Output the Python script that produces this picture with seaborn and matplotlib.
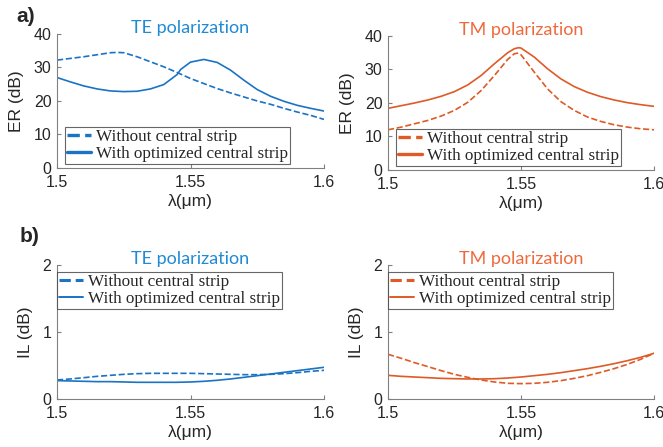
import matplotlib
matplotlib.use("Agg")
import matplotlib.pyplot as plt
import seaborn as sns

# wavelengths (um)
wl = [1.5, 1.505, 1.51, 1.515, 1.52, 1.525, 1.53, 1.535, 1.54, 1.545,
      1.55, 1.555, 1.56, 1.565, 1.57, 1.575, 1.58, 1.585, 1.59, 1.595, 1.6]
wl_te_er = [1.5, 1.505, 1.51, 1.515, 1.52, 1.5225, 1.525, 1.53, 1.535, 1.54,
            1.545, 1.55, 1.555, 1.56, 1.565, 1.57, 1.575, 1.58, 1.585, 1.59,
            1.595, 1.6]
wl_te_er_opt = [1.5, 1.505, 1.51, 1.515, 1.52, 1.525, 1.53, 1.535, 1.54,
                1.545, 1.5463, 1.55, 1.555, 1.56, 1.565, 1.57, 1.575, 1.58,
                1.585, 1.59, 1.595, 1.6]
wl_tm_er = [1.5, 1.505, 1.51, 1.515, 1.52, 1.525, 1.53, 1.535, 1.54, 1.545,
            1.5475, 1.549, 1.55, 1.555, 1.56, 1.565, 1.57, 1.575, 1.58,
            1.585, 1.59, 1.595, 1.6]

# ER (dB)
te_er_without = [32.2, 32.7, 33.2, 33.8, 34.4, 34.5, 34.4, 33.2, 31.7, 30.2,
                 28.5, 26.7, 25.2, 23.7, 22.4, 21.2, 20.0, 19.0, 17.8, 16.7,
                 15.7, 14.5]
te_er_with = [27.0, 25.7, 24.5, 23.6, 23.0, 22.8, 22.9, 23.6, 24.9, 27.9,
              29.4, 31.6, 32.4, 31.5, 29.2, 26.2, 23.4, 21.4, 19.9, 18.7,
              17.8, 17.0]
tm_er_without = [12.0, 12.8, 13.8, 14.8, 16.1, 17.8, 20.2, 23.7, 28.2, 33.0,
                 34.7, 34.9, 34.4, 29.2, 24.2, 20.4, 17.8, 15.8, 14.5, 13.5,
                 12.8, 12.3, 12.0]
tm_er_with = [18.4, 19.2, 20.0, 20.9, 22.0, 23.4, 25.4, 28.2, 31.7, 35.0,
              36.2, 36.5, 36.4, 33.7, 30.2, 27.2, 24.9, 23.2, 21.9, 20.9,
              20.1, 19.5, 19.0]

# IL (dB)
te_il_without = [0.284, 0.299, 0.318, 0.338, 0.353, 0.368, 0.378, 0.383,
                 0.383, 0.383, 0.383, 0.378, 0.373, 0.368, 0.363, 0.363,
                 0.368, 0.378, 0.393, 0.413, 0.428]
te_il_with = [0.274, 0.269, 0.264, 0.259, 0.259, 0.254, 0.249, 0.249, 0.249,
              0.249, 0.254, 0.264, 0.279, 0.299, 0.323, 0.348, 0.373, 0.398,
              0.423, 0.448, 0.473]
tm_il_without = [0.667, 0.607, 0.542, 0.483, 0.423, 0.368, 0.323, 0.284,
                 0.254, 0.234, 0.229, 0.234, 0.249, 0.274, 0.308, 0.348,
                 0.398, 0.453, 0.517, 0.592, 0.682]
tm_il_with = [0.353, 0.338, 0.328, 0.318, 0.308, 0.303, 0.299, 0.299, 0.303,
              0.313, 0.328, 0.348, 0.368, 0.393, 0.423, 0.453, 0.488, 0.527,
              0.572, 0.622, 0.682]

xticks = [1.5, 1.55, 1.6]
xticklabels = ["1.5", "1.55", "1.6"]
label_without = "Without central strip"
label_with = "With optimized central strip"

TE_COLOR = "#1a73c4"
TM_COLOR = "#df5a26"
TE_TITLE = "#1f8ad6"
TM_TITLE = "#ee6a3c"

sns.set_style("white")
plt.rcParams["font.family"] = ["Liberation Sans", "DejaVu Sans"]

fig = plt.figure(figsize=(6.63, 4.47), dpi=100)
ax_te_er = fig.add_axes([0.086, 0.6242, 0.4027, 0.2998])
ax_tm_er = fig.add_axes([0.5852, 0.6197, 0.4012, 0.2998])
ax_te_il = fig.add_axes([0.086, 0.1074, 0.4027, 0.2998])
ax_tm_il = fig.add_axes([0.5852, 0.1074, 0.4012, 0.2998])

panels = [
    (ax_te_er, wl_te_er, te_er_without, wl_te_er_opt, te_er_with, TE_COLOR,
     "TE polarization", TE_TITLE, "ER (dB)", (0, 40), [0, 10, 20, 30, 40], "er"),
    (ax_tm_er, wl_tm_er, tm_er_without, wl_tm_er, tm_er_with, TM_COLOR,
     "TM polarization", TM_TITLE, "ER (dB)", (0, 40), [0, 10, 20, 30, 40], "er"),
    (ax_te_il, wl, te_il_without, wl, te_il_with, TE_COLOR,
     "TE polarization", TE_TITLE, "IL (dB)", (0, 2), [0, 1, 2], "il"),
    (ax_tm_il, wl, tm_il_without, wl, tm_il_with, TM_COLOR,
     "TM polarization", TM_TITLE, "IL (dB)", (0, 2), [0, 1, 2], "il"),
]

for ax, x1, y1, x2, y2, color, title, tcolor, ylab, ylim, yticks, kind in panels:
    sns.lineplot(x=x1, y=y1, ax=ax, color=color, linestyle="--",
                 linewidth=1.2, label=label_without)
    sns.lineplot(x=x2, y=y2, ax=ax, color=color, linewidth=1.2,
                 label=label_with)
    ax.set_xlim(1.5, 1.6)
    ax.set_ylim(*ylim)
    ax.set_xticks(xticks)
    ax.set_xticklabels(xticklabels)
    ax.set_yticks(yticks)
    ax.tick_params(labelsize=11.5, direction="in", length=3, color="#808080",
                   labelcolor="#262626", bottom=True, left=True)
    ax.tick_params(axis="x", pad=5)
    ax.tick_params(axis="y", pad=4)
    for s in ["top", "right"]:
        ax.spines[s].set_visible(False)
    for s in ["left", "bottom"]:
        ax.spines[s].set_color("#808080")
        ax.spines[s].set_linewidth(0.8)
    ax.set_xlabel("λ(μm)", fontsize=12.5, color="#262626", labelpad=3)
    ax.set_ylabel(ylab, fontsize=12.5, color="#262626", labelpad=7)
    ax.set_title(title, color=tcolor, fontsize=13, family=["Lato", "DejaVu Sans"],
                 pad=1)
    if kind == "er":
        leg = ax.legend(loc="lower left", bbox_to_anchor=(0.03, 0.03),
                        borderaxespad=0, labelspacing=0.05, borderpad=0.12,
                        handlelength=1.4, handletextpad=0.3,
                        prop={"family": ["Liberation Serif", "DejaVu Serif"],
                              "size": 12.3})
        lw_dash, lw_solid = 2.4, 2.4
    else:
        leg = ax.legend(loc="upper left", bbox_to_anchor=(0.0, 0.948),
                        borderaxespad=0, labelspacing=0.05, borderpad=0.12,
                        handlelength=1.4, handletextpad=0.3,
                        prop={"family": ["Liberation Serif", "DejaVu Serif"],
                              "size": 12.3})
        lw_dash, lw_solid = 2.2, 1.4
    lines = leg.get_lines()
    lines[0].set_linewidth(lw_dash)
    lines[1].set_linewidth(lw_solid)
    frame = leg.get_frame()
    frame.set_edgecolor("#404040")
    frame.set_linewidth(0.8)
    frame.set_boxstyle("square", pad=0)

fig.text(0.025, 0.963, "a)", fontsize=15, fontweight="bold", va="center")
fig.text(0.03, 0.472, "b)", fontsize=15, fontweight="bold", va="center")

fig.savefig("out.png", dpi=100)
